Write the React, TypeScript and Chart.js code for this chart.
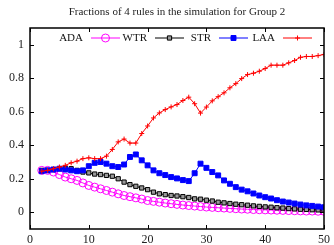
import { useEffect, useRef } from "react";
import { Chart, registerables } from "chart.js";
import { drawPoint } from "chart.js/helpers";

Chart.register(...registerables);

const TITLE = "Fractions of 4 rules in the simulation for Group 2";

const STEPS = [
  2, 3, 4, 5, 6, 7, 8, 9, 10, 11, 12, 13, 14, 15, 16, 17, 18, 19, 20, 21, 22, 23, 24, 25, 26,
  27, 28, 29, 30, 31, 32, 33, 34, 35, 36, 37, 38, 39, 40, 41, 42, 43, 44, 45, 46, 47, 48, 49, 50,
];

const ADA = [
  0.25, 0.25, 0.24, 0.225, 0.21, 0.2, 0.19, 0.175, 0.16, 0.15, 0.14, 0.13, 0.12, 0.11, 0.1,
  0.093, 0.086, 0.079, 0.07, 0.065, 0.06, 0.055, 0.051, 0.047, 0.043, 0.04, 0.037, 0.034,
  0.031, 0.029, 0.027, 0.025, 0.023, 0.021, 0.019, 0.018, 0.016, 0.015, 0.014, 0.013, 0.012,
  0.011, 0.01, 0.009, 0.008, 0.007, 0.007, 0.006, 0.006,
];

const WTR = [
  0.25, 0.25, 0.255, 0.26, 0.262, 0.26, 0.25, 0.24, 0.235, 0.228, 0.225, 0.22, 0.215, 0.2,
  0.18, 0.165, 0.155, 0.145, 0.135, 0.12, 0.11, 0.105, 0.1, 0.097, 0.093, 0.088, 0.08, 0.078,
  0.072, 0.067, 0.06, 0.056, 0.052, 0.048, 0.045, 0.042, 0.038, 0.035, 0.032, 0.03, 0.027,
  0.025, 0.022, 0.02, 0.018, 0.017, 0.015, 0.014, 0.013,
];

const STR = [
  0.245, 0.25, 0.255, 0.26, 0.255, 0.25, 0.245, 0.25, 0.275, 0.295, 0.3, 0.29, 0.275, 0.27,
  0.285, 0.33, 0.345, 0.31, 0.28, 0.25, 0.233, 0.222, 0.21, 0.202, 0.192, 0.186, 0.233, 0.29,
  0.265, 0.24, 0.22, 0.19, 0.17, 0.15, 0.135, 0.125, 0.112, 0.1, 0.09, 0.082, 0.072, 0.064,
  0.058, 0.052, 0.046, 0.041, 0.038, 0.034, 0.03,
];

const LAA = [
  0.245, 0.25, 0.26, 0.27, 0.28, 0.295, 0.305, 0.32, 0.325, 0.32, 0.32, 0.335, 0.375, 0.42,
  0.437, 0.413, 0.413, 0.47, 0.515, 0.563, 0.593, 0.613, 0.629, 0.643, 0.667, 0.687, 0.648,
  0.592, 0.628, 0.665, 0.69, 0.713, 0.743, 0.768, 0.798, 0.822, 0.83, 0.842, 0.858, 0.878,
  0.878, 0.878, 0.892, 0.906, 0.925, 0.93, 0.93, 0.935, 0.942,
];

const X_TICKS = [0, 10, 20, 30, 40, 50];
const Y_TICKS = [0, 0.2, 0.4, 0.6, 0.8, 1];

const FONT = '"Liberation Serif", "DejaVu Serif", serif';

const framePlugin = {
  id: "gnuFrame",
  afterDatasetsDraw(chart: any) {
    const { ctx, chartArea: a } = chart;
    const xs = chart.scales.x;
    const ys = chart.scales.y;
    ctx.save();
    ctx.strokeStyle = "#000";
    ctx.lineWidth = 1.5;
    ctx.strokeRect(a.left, a.top, a.right - a.left, a.bottom - a.top);
    ctx.lineWidth = 1;
    const len = 4;
    ctx.beginPath();
    X_TICKS.forEach((v) => {
      const px = Math.round(xs.getPixelForValue(v)) + 0.5;
      ctx.moveTo(px, a.bottom);
      ctx.lineTo(px, a.bottom - len);
      ctx.moveTo(px, a.top);
      ctx.lineTo(px, a.top + len);
    });
    Y_TICKS.forEach((v) => {
      const py = Math.round(ys.getPixelForValue(v)) + 0.5;
      ctx.moveTo(a.left, py);
      ctx.lineTo(a.left + len, py);
      ctx.moveTo(a.right, py);
      ctx.lineTo(a.right - len, py);
    });
    ctx.stroke();
    ctx.restore();
  },
};

const keyPlugin = {
  id: "gnuKey",
  afterDraw(chart: any) {
    const { ctx, chartArea: a } = chart;
    const y = a.top + 10;
    ctx.save();
    ctx.font = `11px ${FONT}`;
    ctx.textAlign = "right";
    ctx.textBaseline = "middle";
    chart.data.datasets.forEach((ds: any, i: number) => {
      const textEnd = a.left + 53 + i * 64;
      ctx.fillStyle = "#111";
      ctx.fillText(ds.label, textEnd, y);
      const x0 = textEnd + 8;
      const x1 = textEnd + 37;
      ctx.strokeStyle = ds.borderColor;
      ctx.lineWidth = 1;
      ctx.beginPath();
      ctx.moveTo(x0, y);
      ctx.lineTo(x1, y);
      ctx.stroke();
      ctx.fillStyle = ds.pointBackgroundColor;
      ctx.strokeStyle = ds.pointBorderColor;
      ctx.lineWidth = ds.pointBorderWidth;
      drawPoint(
        ctx,
        { pointStyle: ds.pointStyle, radius: ds.pointRadius, borderWidth: ds.pointBorderWidth, rotation: 0 },
        (x0 + x1) / 2,
        y
      );
    });
    ctx.restore();
  },
};

function pts(vals: number[]) {
  return STEPS.map((x, i) => ({ x, y: vals[i] }));
}

export default function App() {
  const ref = useRef<HTMLCanvasElement | null>(null);

  useEffect(() => {
    if (!ref.current) return;
    const chart = new Chart(ref.current, {
      type: "line",
      data: {
        datasets: [
          {
            label: "ADA",
            data: pts(ADA),
            borderColor: "#ff00ff",
            borderWidth: 1,
            pointStyle: "circle",
            pointRadius: 4,
            pointBorderWidth: 1,
            pointBorderColor: "#ff00ff",
            pointBackgroundColor: "rgba(0,0,0,0)",
            order: 4,
          },
          {
            label: "WTR",
            data: pts(WTR),
            borderColor: "#000000",
            borderWidth: 1,
            pointStyle: "rect",
            pointRadius: 3,
            pointBorderWidth: 1,
            pointBorderColor: "#000000",
            pointBackgroundColor: "#999999",
            order: 3,
          },
          {
            label: "STR",
            data: pts(STR),
            borderColor: "#0000ff",
            borderWidth: 1,
            pointStyle: "rect",
            pointRadius: 3.5,
            pointBorderWidth: 1,
            pointBorderColor: "#0000ff",
            pointBackgroundColor: "#0000ff",
            order: 2,
          },
          {
            label: "LAA",
            data: pts(LAA),
            borderColor: "#ff0000",
            borderWidth: 1,
            pointStyle: "cross",
            pointRadius: 2.5,
            pointBorderWidth: 1,
            pointBorderColor: "#ff0000",
            pointBackgroundColor: "#ff0000",
            order: 1,
          },
        ],
      },
      options: {
        responsive: false,
        animation: false,
        devicePixelRatio: 1,
        layout: { padding: { left: 0, right: 8, top: 0, bottom: 0 } },
        plugins: {
          legend: { display: false },
          tooltip: { enabled: false },
          title: {
            display: true,
            text: TITLE,
            fullSize: false,
            color: "#222",
            font: { family: FONT, size: 11, weight: "normal" },
            padding: { top: 6, bottom: 8.8 },
          },
        },
        scales: {
          x: {
            type: "linear",
            min: 0,
            max: 50,
            grid: { display: false, drawTicks: false },
            border: { display: false },
            afterBuildTicks: (s: any) => {
              s.ticks = X_TICKS.map((v) => ({ value: v }));
            },
            afterFit: (s: any) => {
              s.height = 16;
            },
            ticks: {
              color: "#222",
              padding: 4,
              maxRotation: 0,
              autoSkip: false,
              font: { family: FONT, size: 12 },
              callback: (v: any) => String(v),
            },
          },
          y: {
            type: "linear",
            min: -0.1,
            max: 1.1,
            grid: { display: false, drawTicks: false },
            border: { display: false },
            afterBuildTicks: (s: any) => {
              s.ticks = Y_TICKS.map((v) => ({ value: v }));
            },
            afterFit: (s: any) => {
              s.width = 30;
            },
            ticks: {
              color: "#222",
              padding: 6,
              autoSkip: false,
              font: { family: FONT, size: 12 },
              callback: (v: any) => String(Math.round(v * 10) / 10),
            },
          },
        },
      },
      plugins: [framePlugin, keyPlugin],
    });
    return () => chart.destroy();
  }, []);

  return (
    <div style={{ position: "absolute", left: 0, top: 0, width: 334, height: 245, background: "#fff" }}>
      <canvas ref={ref} width={334} height={245} />
    </div>
  );
}
